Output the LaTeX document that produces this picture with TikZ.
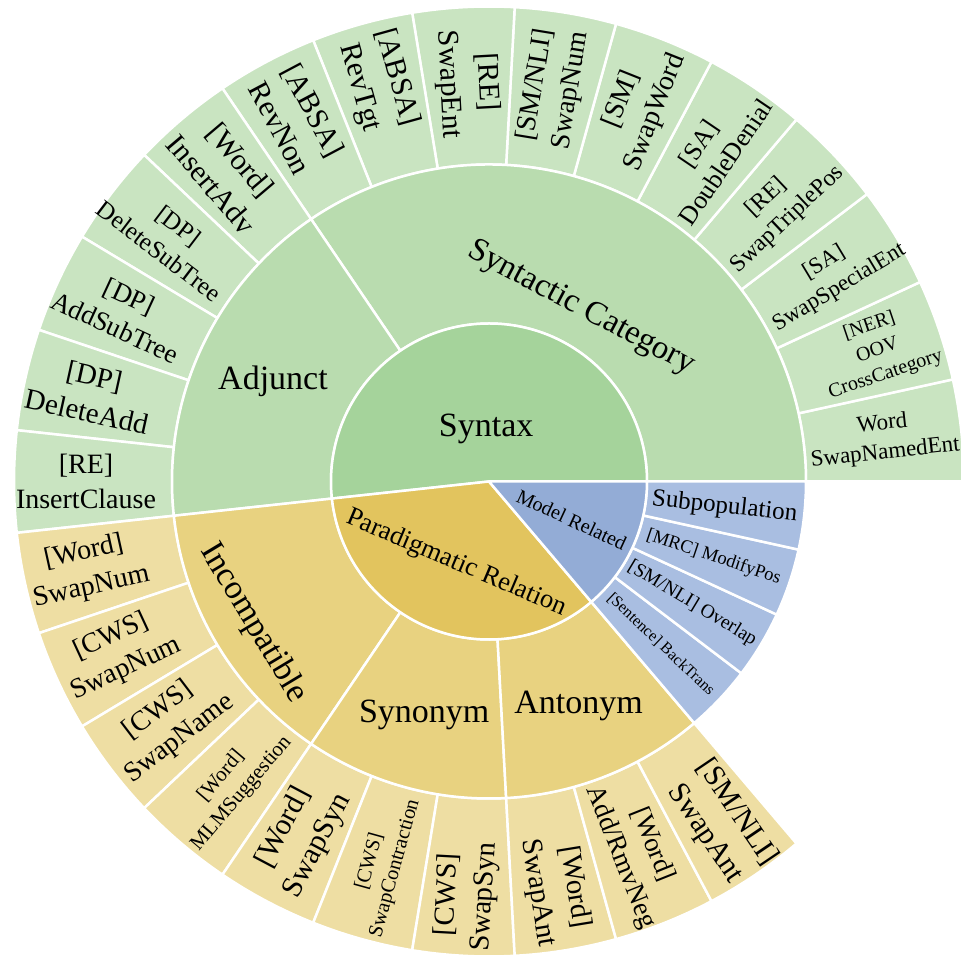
\documentclass[tikz,border=0pt]{standalone}
\usepackage{fontspec}
\setmainfont{Liberation Serif}

% fills: A = root ring, B = middle ring, C = outer ring
\definecolor{synA}{RGB}{165,211,155}
\definecolor{synB}{RGB}{185,220,175}
\definecolor{synC}{RGB}{201,228,193}
\definecolor{parA}{RGB}{226,196,94}
\definecolor{parB}{RGB}{232,210,128}
\definecolor{parC}{RGB}{238,222,163}
\definecolor{modA}{RGB}{147,172,214}
\definecolor{modB}{RGB}{169,190,225}

\tikzset{
  wedge/.style={draw=white, line width=2.5pt, line join=round},
  lbl/.style={inner sep=0pt, align=center, text=black}
}

% central sector: start angle, end angle, radius, style
\newcommand\sbcore[4]{\filldraw[wedge,#4] (0,0) -- (#1:#3) arc[start angle=#1,end angle=#2,radius=#3] -- cycle;}
% annular sector: start angle, end angle, inner radius, outer radius, style
\newcommand\sbring[5]{\filldraw[wedge,#5] (#1:#3) arc[start angle=#1,end angle=#2,radius=#3] -- (#2:#4) arc[start angle=#2,end angle=#1,radius=#4] -- cycle;}
% label of slot #1 (of 29), font size #2, radius #3, text #4
\newcommand\sblabel[4]{%
  \pgfmathsetmacro\sbm{(#1+0.5)*360/29}%
  \pgfmathsetmacro\sbr{(\sbm>90 && \sbm<270) ? \sbm-180 : ((\sbm>=270) ? \sbm-360 : \sbm)}%
  \pgfmathsetmacro\sbls{#2*1.27}%
  \node[lbl, rotate=\sbr, font={\fontsize{#2}{\sbls}\selectfont}] (slot#1) at (\sbm:#3) {#4};}

\begin{document}
\begin{tikzpicture}[x=1pt,y=1pt]
\useasboundingbox (-489,-475.5) rectangle (472,481.5);
\clip (-489,-475.5) rectangle (472,481.5);

% ---- outer ring (leaves)
\foreach \i in {0,...,24}{
  \pgfmathsetmacro\aa{\i*360/29}
  \pgfmathsetmacro\ab{(\i+1)*360/29}
  \ifnum\i<15 \def\cc{synC}\else\def\cc{parC}\fi
  \sbring{\aa}{\ab}{317}{475}{fill=\cc}
}

% ---- middle ring
\sbring{0}{124.1379}{158}{317}{fill=synB}
\sbring{124.1379}{186.2069}{158}{317}{fill=synB}
\sbring{186.2069}{235.8621}{158}{317}{fill=parB}
\sbring{235.8621}{273.1034}{158}{317}{fill=parB}
\sbring{273.1034}{310.3448}{158}{317}{fill=parB}
\foreach \i in {25,...,28}{
  \pgfmathsetmacro\aa{\i*360/29}
  \pgfmathsetmacro\ab{(\i+1)*360/29}
  \sbring{\aa}{\ab}{158}{317}{fill=modB}
}

% ---- root ring
\sbcore{0}{186.2069}{158}{fill=synA}
\sbcore{186.2069}{310.3448}{158}{fill=parA}
\sbcore{310.3448}{360}{158}{fill=modA}

% ---- root labels
\node[lbl, font=\fontsize{34}{40}\selectfont] (syntax) at (93.1:53) {Syntax};
\node[lbl, rotate=-23, font=\fontsize{26.5}{32}\selectfont] (para) at (248.28:88) {Paradigmatic Relation};
\node[lbl, rotate=-24.83, font=\fontsize{20}{24}\selectfont] (model) at (335.17:91) {Model Related};

% ---- middle labels
\node[lbl, rotate=-27.93, font=\fontsize{33}{40}\selectfont] (syncat) at (62.07:196) {Syntactic Category};
\node[lbl, font=\fontsize{34}{40}\selectfont] (adjunct) at (155.17:238) {Adjunct};
\node[lbl, rotate=-58.97, font=\fontsize{34}{40}\selectfont] (incomp) at (211.03:275) {Incompatible};
\node[lbl, font=\fontsize{34}{40}\selectfont] (synonym) at (254.48:242) {Synonym};
\node[lbl, font=\fontsize{34}{40}\selectfont] (antonym) at (291.72:242) {Antonym};
\sblabel{25}{16}{237}{[Sentence] BackTrans}
\sblabel{26}{19.5}{237}{[SM/NLI] Overlap}
\sblabel{27}{18.5}{237}{[MRC] ModifyPos}
\sblabel{28}{25}{237}{Subpopulation}

% ---- leaf labels
\sblabel{0}{23}{397}{Word\\SwapNamedEnt}
\sblabel{1}{20}{410}{[NER]\\OOV\\CrossCategory}
\sblabel{2}{23}{400}{[SA]\\SwapSpecialEnt}
\sblabel{3}{24}{397}{[RE]\\SwapTriplePos}
\sblabel{4}{26}{397}{[SA]\\DoubleDenial}
\sblabel{5}{28}{404}{[SM]\\SwapWord}
\sblabel{6}{28}{399}{[SM/NLI]\\SwapNum}
\sblabel{7}{30}{399}{[RE]\\SwapEnt}
\sblabel{8}{30}{414}{[ABSA]\\RevTgt}
\sblabel{9}{30}{410}{[ABSA]\\RevNon}
\sblabel{10}{30}{406}{[Word]\\InsertAdv}
\sblabel{11}{25}{402}{[DP]\\DeleteSubTree}
\sblabel{12}{27}{404}{[DP]\\AddSubTree}
\sblabel{13}{29}{408}{[DP]\\DeleteAdd}
\sblabel{14}{28}{403}{[RE]\\InsertClause}
\sblabel{15}{28}{411}{[Word]\\SwapNum}
\sblabel{16}{28}{408}{[CWS]\\SwapNum}
\sblabel{17}{28}{402}{[CWS]\\SwapName}
\sblabel{18}{21}{398}{[Word]\\MLMSuggestion}
\sblabel{19}{30}{402}{[Word]\\SwapSyn}
\sblabel{20}{20.5}{398}{[CWS]\\SwapContraction}
\sblabel{21}{29}{415}{[CWS]\\SwapSyn}
\sblabel{22}{29}{414}{[Word]\\SwapAnt}
\sblabel{23}{27}{398}{[Word]\\Add/RmvNeg}
\sblabel{24}{30}{413}{[SM/NLI]\\SwapAnt}
\end{tikzpicture}
\end{document}
